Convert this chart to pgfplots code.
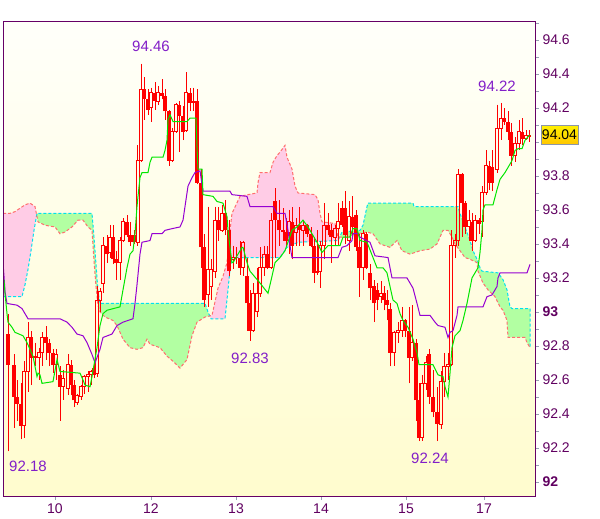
\documentclass[border=0pt]{standalone}
\usepackage{fontspec}
\setmainfont{Liberation Sans}
\usepackage{pgfplots}
\usepackage{pgfplotstable}
\pgfplotsset{compat=1.18}

\definecolor{axispurple}{RGB}{102,0,102}
\definecolor{labelpurple}{RGB}{96,0,96}
\definecolor{tickgray}{RGB}{150,160,178}
\definecolor{bgtop}{RGB}{255,255,250}
\definecolor{bgbot}{RGB}{255,252,206}
\definecolor{candlered}{RGB}{255,0,0}
\definecolor{tenkan}{RGB}{0,230,0}
\definecolor{kijun}{RGB}{150,0,210}
\definecolor{spanA}{RGB}{0,225,240}
\definecolor{spanB}{RGB}{255,110,110}
\definecolor{pinkfill}{RGB}{255,204,230}
\definecolor{greenfill}{RGB}{178,255,162}
\definecolor{annot}{RGB}{130,30,200}
\definecolor{boxborder}{RGB}{140,150,168}

\pgfplotstableread{
x o h l c
8 92.87 92.99 92.18 92.69
14 92.69 92.75 92.32 92.50
17 92.50 92.60 92.36 92.46
21 92.46 92.58 92.25 92.33
24 92.33 92.71 92.26 92.65
28 92.65 92.94 92.53 92.85
31 92.85 92.89 92.57 92.73
35 92.73 92.82 92.68 92.74
39 92.73 92.79 92.60 92.76
42 92.76 92.88 92.68 92.85
46 92.85 92.92 92.72 92.82
49 92.82 92.84 92.68 92.76
53 92.76 92.78 92.64 92.69
56 92.69 92.78 92.60 92.75
60 92.63 92.68 92.36 92.56
63 92.56 92.66 92.48 92.61
68 92.55 92.75 92.51 92.69
71 92.69 92.72 92.51 92.57
74 92.57 92.60 92.44 92.48
77 92.47 92.52 92.45 92.51
81 92.50 92.57 92.48 92.56
84 92.56 92.63 92.52 92.62
88 92.62 92.65 92.53 92.63
91 92.63 92.66 92.57 92.65
94 92.67 92.72 92.61 92.63
97 92.64 93.15 92.62 93.07
100 93.07 93.14 93.00 93.12
103 93.17 93.44 93.11 93.39
107 93.39 93.45 93.29 93.34
110 93.35 93.51 93.32 93.44
113 93.44 93.51 93.28 93.31
116 93.31 93.36 93.19 93.29
120 93.29 93.44 93.19 93.42
123 93.42 93.55 93.41 93.53
127 93.53 93.57 93.44 93.45
130 93.45 93.53 93.39 93.41
134 93.45 93.48 93.40 93.41
137.5 93.41 93.98 93.39 93.89
141 93.89 94.46 93.88 94.31
144 94.31 94.38 94.13 94.25
148 94.25 94.31 94.16 94.19
151 94.20 94.32 94.12 94.29
155 94.29 94.35 94.19 94.24
158 94.24 94.33 94.22 94.29
162 94.29 94.37 94.25 94.27
165 94.27 94.31 94.13 94.18
169 94.18 94.19 93.86 93.89
172 93.89 94.08 93.88 94.06
176 94.06 94.23 94.05 94.22
179 94.22 94.24 93.94 94.15
183 94.15 94.21 94.01 94.06
186 94.07 94.41 94.06 94.29
190 94.29 94.32 94.18 94.23
193 94.23 94.32 94.18 94.24
197 94.24 94.31 93.75 93.76
201 93.76 93.84 93.26 93.38
204 93.38 93.46 93.03 93.07
208 93.10 93.62 93.03 93.25
211 93.15 93.31 93.07 93.25
215 93.24 93.62 93.20 93.54
218 93.54 93.62 93.42 93.48
222 93.48 93.63 93.47 93.58
225 93.58 93.66 93.45 93.48
229 93.48 93.54 93.21 93.24
233 93.31 93.39 93.25 93.32
236 93.32 93.38 93.28 93.32
240 93.32 93.42 93.22 93.26
243 93.26 93.42 93.21 93.41
247 93.21 93.32 92.89 93.05
250 93.05 93.13 92.83 92.89
253 92.89 93.17 92.88 93.11
257 93.00 93.26 92.97 93.11
260 93.11 93.38 93.09 93.26
264 93.26 93.39 93.21 93.34
267 93.34 93.39 93.25 93.26
271 93.26 93.58 93.25 93.54
275 93.65 93.73 93.32 93.54
279 93.54 93.66 93.39 93.48
283 93.48 93.61 93.42 93.47
286 93.47 93.55 93.39 93.42
289 93.47 93.60 93.34 93.53
292 93.53 93.62 93.31 93.39
296 93.47 93.55 93.39 93.51
299 93.51 93.62 93.39 93.48
303 93.48 93.54 93.39 93.51
307 93.51 93.52 93.44 93.46
311 93.46 93.50 93.38 93.39
314 93.39 93.44 93.17 93.23
317 93.23 93.48 93.22 93.24
320 93.24 93.42 93.14 93.39
324 93.39 93.64 93.31 93.51
328 93.51 93.58 93.45 93.48
331 93.48 93.52 93.29 93.44
335 93.44 93.51 93.39 93.49
338 93.49 93.64 93.39 93.53
342 93.61 93.65 93.50 93.51
345 93.61 93.71 93.40 93.45
349 93.42 93.65 93.36 93.56
352 93.56 93.68 93.45 93.50
356 93.57 93.60 93.36 93.38
359 93.38 93.46 93.09 93.26
363 93.26 93.48 93.19 93.46
366 93.46 93.47 93.25 93.26
370 93.23 93.28 93.07 93.14
374 93.15 93.19 92.94 93.05
377 93.13 93.17 93.01 93.07
381 93.09 93.18 93.05 93.11
384 93.11 93.15 93.01 93.07
387 93.07 93.13 92.95 93.04
390 93.02 93.05 92.68 92.76
394 92.76 92.89 92.68 92.88
398 92.88 92.94 92.82 92.89
402 92.89 93.03 92.85 92.95
405 92.95 92.96 92.85 92.89
409 92.89 93.03 92.58 92.73
412 92.73 93.04 92.71 92.82
416 92.82 92.84 92.36 92.48
419 92.48 92.58 92.24 92.26
422 92.26 92.63 92.24 92.58
426 92.58 92.74 92.54 92.70
429 92.75 92.78 92.46 92.50
433 92.50 92.66 92.38 92.41
437 92.41 92.56 92.24 92.34
441 92.34 92.65 92.31 92.59
444 92.59 92.76 92.50 92.68
448 92.68 92.76 92.60 92.69
451 92.69 93.48 92.68 93.39
455 93.39 93.46 93.32 93.42
458 93.42 93.84 93.39 93.81
462 93.81 93.82 93.44 93.64
465 93.64 93.65 93.46 93.50
469 93.50 93.60 93.42 93.54
472 93.53 93.58 93.36 93.42
475 93.42 93.57 93.41 93.54
479 93.54 93.55 93.46 93.52
482 93.53 93.74 93.44 93.70
486 93.70 93.95 93.69 93.86
489 93.86 93.89 93.72 93.76
492 93.85 93.95 93.71 93.76
497 93.84 94.22 93.82 94.08
501 94.08 94.23 94.01 94.14
504 94.14 94.20 94.10 94.12
508 94.12 94.18 94.01 94.06
511 94.06 94.11 93.86 93.92
515 93.92 94.03 93.88 93.99
519 93.99 94.13 93.95 94.06
522 94.06 94.14 93.98 94.02
526 94.02 94.07 94.01 94.04
529 94.03 94.07 94.00 94.04
}\candles
\pgfplotstablegetrowsof{\candles}
\pgfmathtruncatemacro{\lastrow}{\pgfplotsretval-1}

\begin{document}
\begin{tikzpicture}
\useasboundingbox (0,0) rectangle (600bp,519bp);
\begin{axis}[
  at={(3bp,23bp)}, anchor=south west,
  scale only axis, width=532bp, height=474bp,
  xmin=3, xmax=535, ymin=91.9174, ymax=94.7056,
  axis on top,
  axis line style={draw=axispurple, line width=1bp},
  axis background/.style={top color=bgtop, bottom color=bgbot},
  xtick={55,151,236,321,406,484},
  xticklabels={10,12,13,14,15,17},
  ytick={92,92.2,92.4,92.6,92.8,93,93.2,93.4,93.6,93.8,94,94.2,94.4,94.6},
  yticklabels={\textbf{92},92.2,92.4,92.6,92.8,\textbf{93},93.2,93.4,93.6,93.8,{},94.2,94.4,94.6},
  minor ytick={92.1,92.3,92.5,92.7,92.9,93.1,93.3,93.5,93.7,93.9,94.1,94.3,94.5,94.7},
  xtick pos=left, ytick pos=right, yticklabel pos=right,
  tick align=outside,
  major tick length=4bp, minor tick length=4bp,
  tick style={draw=tickgray, line width=0.8bp},
  yticklabel style={anchor=west, font=\fontsize{14bp}{16bp}\selectfont, text=labelpurple},
  xticklabel style={font=\fontsize{14bp}{16bp}\selectfont, text=labelpurple},
]
% cloud fills (between span A and span B)
\addplot[fill=pinkfill, draw=none, forget plot] coordinates {
(3,93.58)(10,93.58)(15,93.59)(20,93.61)(25,93.63)(30,93.64)(35,93.62)(36.7,93.57)(34,93.48)(31,93.36)(28,93.25)(25,93.16)(22,93.09)(3,93.09)};
\addplot[fill=greenfill, draw=none, forget plot] coordinates {
(36.7,93.57)(37,93.58)(92,93.58)(94,93.44)(96,93.28)(98,93.12)(100,93.05)(205,93.05)(208,93.00)(209.7,92.977)(205,92.97)(197,92.94)(192,92.86)(187,92.72)(180,92.67)(173,92.71)(167,92.74)(160,92.79)(150,92.81)(147,92.84)(143,92.79)(137,92.78)(130,92.79)(123,92.84)(117,92.92)(113,92.95)(105,92.97)(100,93.00)(98,93.04)(96,93.15)(94,93.30)(92,93.48)(88,93.50)(83,93.54)(78,93.54)(72,93.50)(65,93.47)(60,93.46)(55,93.50)(45,93.51)(38,93.53)};
\addplot[fill=pinkfill, draw=none, forget plot] coordinates {
(209.7,92.977)(212,92.98)(218,93.14)(223,93.21)(227,93.29)(230,93.48)(232,93.58)(240,93.68)(248,93.69)(257,93.70)(258,93.76)(260,93.82)(270,93.82)(273,93.88)(277,93.92)(280,93.94)(285,93.98)(287,93.91)(292,93.84)(295,93.74)(298,93.70)(315,93.69)(318,93.66)(320,93.58)(322,93.53)(335,93.52)(338,93.44)(339.6,93.44)(338,93.42)(298,93.41)(287,93.38)(280,93.32)(232,93.32)(230,93.25)(228,93.13)(225,92.96)(211,92.96)};
\addplot[fill=greenfill, draw=none, forget plot] coordinates {
(339.6,93.44)(342,93.47)(360,93.48)(363,93.51)(367,93.62)(368,93.64)(413,93.64)(414,93.62)(458,93.62)(460,93.58)(465,93.50)(470,93.42)(473,93.36)(477,93.31)(480,93.26)(482,93.24)(498,93.23)(503,93.19)(507,93.13)(510,93.03)(512,93.02)(530,93.02)(530,92.79)(527,92.82)(525,92.85)(508,92.85)(507,92.95)(503,93.01)(500,93.03)(495,93.09)(488,93.13)(483,93.17)(478,93.24)(477,93.29)(470,93.31)(465,93.32)(460,93.36)(455,93.40)(452,93.44)(448,93.48)(443,93.48)(437,93.40)(430,93.37)(420,93.36)(410,93.34)(402,93.36)(397,93.42)(390,93.38)(380,93.40)(373,93.46)(367,93.47)(357,93.46)(347,93.44)};
% span A (cyan dashed) and span B (salmon dashed)
\addplot[draw=spanA, line width=1bp, dash pattern=on 3bp off 2bp, forget plot] coordinates {
(3,93.09)(22,93.09)(25,93.16)(28,93.25)(31,93.36)(34,93.48)(37,93.58)(92,93.58)(94,93.44)(96,93.28)(98,93.12)(100,93.05)(205,93.05)(208,93.00)(211,92.96)(225,92.96)(228,93.13)(230,93.25)(232,93.32)(280,93.32)(287,93.38)(298,93.41)(338,93.42)(342,93.47)(360,93.48)(363,93.51)(367,93.62)(368,93.64)(413,93.64)(414,93.62)(458,93.62)(460,93.58)(465,93.50)(470,93.42)(473,93.36)(477,93.31)(480,93.26)(482,93.24)(498,93.23)(503,93.19)(507,93.13)(510,93.03)(512,93.02)(530,93.02)(530,92.79)};
\addplot[draw=spanB, line width=1bp, dash pattern=on 3bp off 2bp, forget plot] coordinates {
(3,93.58)(10,93.58)(15,93.59)(20,93.61)(25,93.63)(30,93.64)(35,93.62)(38,93.53)(45,93.51)(55,93.50)(60,93.46)(65,93.47)(72,93.50)(78,93.54)(83,93.54)(88,93.50)(92,93.48)(94,93.30)(96,93.15)(98,93.04)(100,93.00)(105,92.97)(113,92.95)(117,92.92)(123,92.84)(130,92.79)(137,92.78)(143,92.79)(147,92.84)(150,92.81)(160,92.79)(167,92.74)(173,92.71)(180,92.67)(187,92.72)(192,92.86)(197,92.94)(205,92.97)(212,92.98)(218,93.14)(223,93.21)(227,93.29)(230,93.48)(232,93.58)(240,93.68)(248,93.69)(257,93.70)(258,93.76)(260,93.82)(270,93.82)(273,93.88)(277,93.92)(280,93.94)(285,93.98)(287,93.91)(292,93.84)(295,93.74)(298,93.70)(315,93.69)(318,93.66)(320,93.58)(322,93.53)(335,93.52)(338,93.44)(347,93.44)(357,93.46)(367,93.47)(373,93.46)(380,93.40)(390,93.38)(397,93.42)(402,93.36)(410,93.34)(420,93.36)(430,93.37)(437,93.40)(443,93.48)(448,93.48)(452,93.44)(455,93.40)(460,93.36)(465,93.32)(470,93.31)(477,93.29)(478,93.24)(483,93.17)(488,93.13)(495,93.09)(500,93.03)(503,93.01)(507,92.95)(508,92.85)(525,92.85)(527,92.82)(530,92.79)};
% candles
\pgfplotsforeachungrouped \i in {0,...,\lastrow}{%
  \pgfplotstablegetelem{\i}{x}\of\candles \let\cx\pgfplotsretval
  \pgfplotstablegetelem{\i}{o}\of\candles \let\co\pgfplotsretval
  \pgfplotstablegetelem{\i}{h}\of\candles \let\ch\pgfplotsretval
  \pgfplotstablegetelem{\i}{l}\of\candles \let\cl\pgfplotsretval
  \pgfplotstablegetelem{\i}{c}\of\candles \let\cc\pgfplotsretval
  \pgfmathsetmacro{\cbot}{min(\co,\cc)}%
  \pgfmathsetmacro{\ctop}{max(\co,\cc)}%
  \pgfmathsetmacro{\cxa}{\cx-1.5}%
  \pgfmathsetmacro{\cxb}{\cx+1.5}%
  \pgfmathtruncatemacro{\isdown}{\cc<\co}%
  \ifnum\isdown=1
    \edef\doplot{\noexpand\addplot[forget plot, draw=candlered, line width=1bp] coordinates {(\cx,\cl)(\cx,\ch)};%
      \noexpand\addplot[forget plot, draw=candlered, line width=4bp] coordinates {(\cx,\cbot)(\cx,\ctop)};}%
  \else
    \edef\doplot{\noexpand\addplot[forget plot, draw=candlered, line width=1bp, unbounded coords=jump] coordinates {(\cx,\ch)(\cx,\ctop)(\cxa,\ctop)(\cxa,\cbot)(\cxb,\cbot)(\cxb,\ctop)(\cx,\ctop)(\cx,nan)(\cx,\cbot)(\cx,\cl)};}%
  \fi
  \doplot
}
% kijun (purple)
\addplot[draw=kijun, line width=1bp, forget plot] coordinates {
(3,93.29)(4,93.21)(5,93.12)(7,93.05)(17,93.04)(22,93.02)(25,92.99)(28,92.96)(60,92.96)(67,92.94)(72,92.91)(77,92.87)(83,92.86)(87,92.82)(92,92.75)(95,92.70)(100,92.78)(103,92.85)(112,92.87)(117,92.92)(123,92.94)(133,92.96)(135,93.05)(137,93.16)(140,93.34)(142,93.41)(150,93.42)(152,93.46)(162,93.46)(165,93.48)(172,93.49)(180,93.50)(183,93.54)(185,93.62)(188,93.74)(192,93.79)(195,93.82)(200,93.83)(203,93.71)(230,93.71)(232,93.69)(247,93.68)(250,93.62)(273,93.62)(277,93.58)(285,93.58)(288,93.48)(290,93.39)(292,93.32)(338,93.32)(342,93.38)(347,93.39)(352,93.42)(353,93.46)(358,93.46)(360,93.44)(370,93.41)(375,93.33)(388,93.32)(392,93.20)(407,93.20)(413,93.14)(417,93.05)(420,92.98)(430,92.98)(435,92.94)(438,92.92)(445,92.91)(448,92.85)(450,92.88)(453,92.89)(457,92.98)(458,93.03)(483,93.03)(487,93.09)(492,93.10)(497,93.15)(498,93.20)(500,93.23)(527,93.23)(530,93.28)};
% tenkan (green)
\addplot[draw=tenkan, line width=1bp, forget plot] coordinates {
(4,93.19)(5,93.11)(6,93.05)(7,92.99)(8,92.94)(12,92.91)(15,92.88)(23,92.86)(27,92.82)(30,92.78)(33,92.74)(35,92.68)(37,92.62)(38,92.64)(40,92.63)(42,92.58)(53,92.59)(57,92.72)(60,92.65)(80,92.64)(83,92.60)(85,92.57)(90,92.56)(92,92.62)(97,92.79)(100,92.92)(103,92.99)(107,93.01)(120,93.03)(123,93.13)(127,93.26)(130,93.34)(133,93.36)(135,93.46)(137,93.62)(138,93.68)(140,93.79)(142,93.82)(148,93.82)(150,93.88)(152,93.91)(163,93.91)(165,93.95)(167,94.01)(168,94.13)(170,94.16)(173,94.12)(187,94.12)(190,94.14)(196,94.14)(197,93.97)(198,93.84)(202,93.84)(203,93.69)(213,93.68)(217,93.65)(223,93.64)(227,93.56)(228,93.48)(230,93.38)(232,93.29)(233,93.29)(242,93.38)(243,93.38)(247,93.29)(250,93.24)(260,93.17)(268,93.11)(272,93.21)(275,93.29)(280,93.32)(285,93.36)(292,93.48)(297,93.50)(303,93.54)(308,93.50)(317,93.41)(322,93.35)(328,93.39)(340,93.39)(343,93.44)(350,93.44)(353,93.49)(357,93.49)(360,93.42)(367,93.41)(373,93.32)(377,93.26)(383,93.26)(387,93.23)(390,93.15)(393,93.07)(397,93.05)(400,92.99)(403,92.95)(408,92.91)(413,92.84)(417,92.76)(419,92.69)(433,92.69)(438,92.63)(443,92.62)(445,92.56)(448,92.50)(450,92.64)(452,92.79)(455,92.86)(460,92.89)(463,92.95)(467,93.05)(472,93.20)(478,93.26)(480,93.35)(482,93.48)(483,93.60)(485,93.63)(493,93.63)(497,93.72)(500,93.78)(505,93.82)(508,93.85)(512,93.89)(515,93.95)(518,93.96)(522,93.96)(525,94.01)(528,94.03)(530,94.04)};
% annotations
\node[font=\fontsize{15bp}{17bp}\selectfont, text=annot] at (axis cs:151,94.565) {94.46};
\node[font=\fontsize{15bp}{17bp}\selectfont, text=annot] at (axis cs:28,92.094) {92.18};
\node[font=\fontsize{15bp}{17bp}\selectfont, text=annot] at (axis cs:250,92.729) {92.83};
\node[font=\fontsize{15bp}{17bp}\selectfont, text=annot] at (axis cs:430,92.141) {92.24};
\node[font=\fontsize{15bp}{17bp}\selectfont, text=annot] at (axis cs:497,94.329) {94.22};
\end{axis}
% last price box
\node[draw=boxborder, line width=1bp, top color={rgb,255:red,255;green,240;blue,0}, bottom color={rgb,255:red,255;green,198;blue,0},
  minimum width=37bp, minimum height=18.5bp, inner sep=0pt, font=\fontsize{14bp}{16bp}\selectfont, text=black]
  at (559.5bp,384bp) {94.04};
\end{tikzpicture}
\end{document}
